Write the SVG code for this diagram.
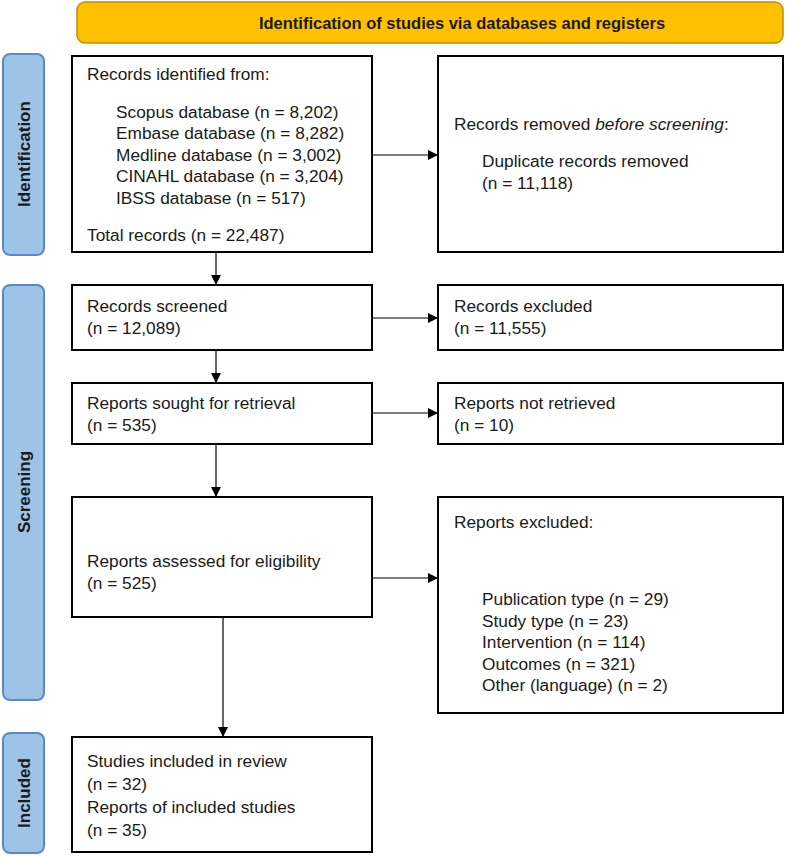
<svg xmlns="http://www.w3.org/2000/svg" width="800" height="856" viewBox="0 0 800 856">
<style>
.b{fill:#fff;stroke:#000;stroke-width:2}
.s{fill:#9DC3E6;stroke:#5A8AC6;stroke-width:2}
text{font-family:"Liberation Sans",Arial,sans-serif;font-size:17.3px;fill:#1a1a1a}
.v{font-weight:bold;font-size:17px;text-anchor:middle}
.c{stroke:#000;stroke-width:1.2;fill:none;marker-end:url(#a)}
</style>
<defs><marker id="a" markerWidth="10" markerHeight="10" refX="9" refY="5" orient="auto" markerUnits="userSpaceOnUse"><path d="M0,0L10,5L0,10z" fill="#000"/></marker></defs>
<g id="header"><rect x="77" y="2" width="706" height="41" rx="8" fill="#FFC000" stroke="#C09000" stroke-width="1.5"/><text x="462" y="29" class="v" style="font-size:16.5px">Identification of studies via databases and registers</text></g>
<g id="side-identification"><rect class="s" x="3" y="54" width="41" height="201" rx="7"/><text class="v" transform="translate(30,154) rotate(-90)">Identification</text></g>
<g id="side-screening"><rect class="s" x="3" y="285" width="41" height="415" rx="7"/><text class="v" transform="translate(30,492) rotate(-90)">Screening</text></g>
<g id="side-included"><rect class="s" x="3" y="733" width="41" height="120" rx="7"/><text class="v" transform="translate(30,793) rotate(-90)">Included</text></g>
<g id="n1"><rect class="b" x="72" y="56" width="300" height="196"/>
<text x="87" y="80">Records identified from:</text>
<text x="116" y="118">Scopus database (n = 8,202)</text>
<text x="116" y="139">Embase database (n = 8,282)</text>
<text x="116" y="161">Medline database (n = 3,002)</text>
<text x="116" y="182">CINAHL database (n = 3,204)</text>
<text x="116" y="204">IBSS database (n = 517)</text>
<text x="87" y="241">Total records (n = 22,487)</text></g>
<g id="n1r"><rect class="b" x="438" y="56" width="345" height="196"/>
<text x="454" y="130">Records removed <tspan font-style="italic">before screening</tspan>:</text>
<text x="482" y="167">Duplicate records removed</text>
<text x="482" y="189">(n = 11,118)</text></g>
<g id="n2"><rect class="b" x="72" y="285" width="300" height="65"/><text x="87" y="312">Records screened</text><text x="87" y="334">(n = 12,089)</text></g>
<g id="n2r"><rect class="b" x="438" y="285" width="345" height="65"/><text x="454" y="312">Records excluded</text><text x="454" y="334">(n = 11,555)</text></g>
<g id="n3"><rect class="b" x="72" y="383" width="300" height="61"/><text x="87" y="409">Reports sought for retrieval</text><text x="87" y="431">(n = 535)</text></g>
<g id="n3r"><rect class="b" x="438" y="383" width="345" height="61"/><text x="454" y="409">Reports not retrieved</text><text x="454" y="431">(n = 10)</text></g>
<g id="n4"><rect class="b" x="72" y="497" width="300" height="120"/><text x="87" y="567">Reports assessed for eligibility</text><text x="87" y="589">(n = 525)</text></g>
<g id="n4r"><rect class="b" x="438" y="497" width="345" height="216"/>
<text x="454" y="528">Reports excluded:</text>
<text x="482" y="605">Publication type (n = 29)</text>
<text x="482" y="627">Study type (n = 23)</text>
<text x="482" y="648">Intervention (n = 114)</text>
<text x="482" y="670">Outcomes (n = 321)</text>
<text x="482" y="691">Other (language) (n = 2)</text></g>
<g id="n5"><rect class="b" x="72" y="737" width="300" height="115"/>
<text x="87" y="767">Studies included in review</text>
<text x="87" y="790">(n = 32)</text>
<text x="87" y="813">Reports of included studies</text>
<text x="87" y="836">(n = 35)</text></g>
<g id="connectors">
<path class="c" d="M216,252V284"/>
<path class="c" d="M216,350V382"/>
<path class="c" d="M216,444V496"/>
<path class="c" d="M223,617V736" stroke="#666"/>
<path class="c" d="M372,155H437"/>
<path class="c" d="M372,318H437"/>
<path class="c" d="M372,413H437"/>
<path class="c" d="M372,578H437"/>
</g>
</svg>
